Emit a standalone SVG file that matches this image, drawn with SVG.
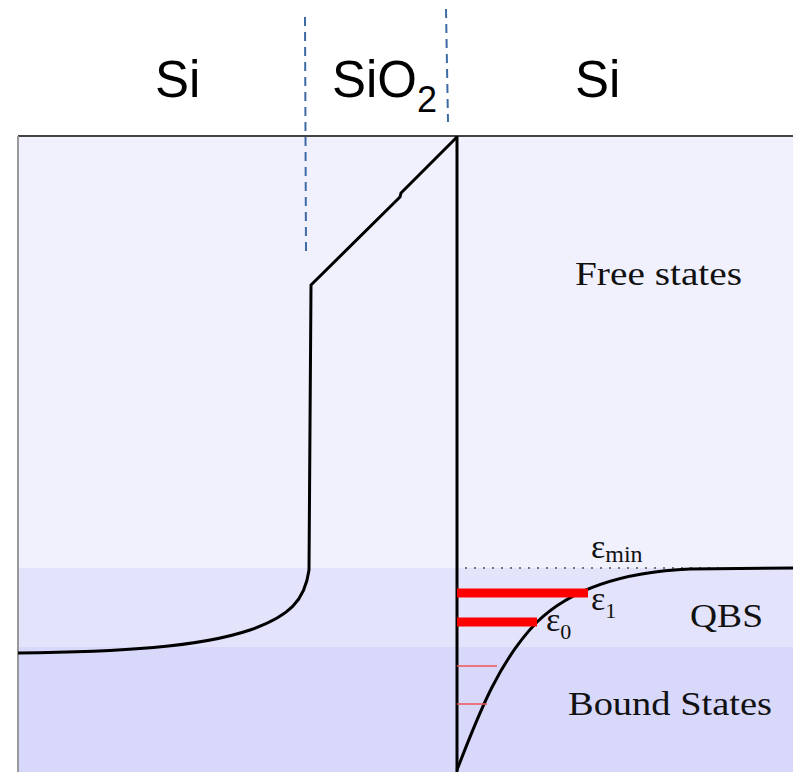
<svg xmlns="http://www.w3.org/2000/svg" width="793" height="772" viewBox="0 0 793 772">
<style>
.lbl{font-family:"Liberation Sans",Arial,sans-serif;font-size:51px;fill:#000}
.ser{font-family:"Liberation Serif","Times New Roman",serif;fill:#111}
.dash{stroke:#3d6aa5;stroke-width:2;stroke-dasharray:9,6;fill:none}
.curve{stroke:#000;stroke-width:3;fill:none;stroke-linejoin:round}
</style>
<rect width="793" height="772" fill="#fff"/>
<g id="bands">
<rect x="18" y="136" width="775" height="432" fill="#f1f1fe"/>
<rect x="18" y="568" width="775" height="79" fill="#e3e3fb"/>
<rect x="18" y="647" width="775" height="125" fill="#d8d8fb"/>
<line x1="18" y1="136" x2="793" y2="136" stroke="#444" stroke-width="2"/>
<line x1="18" y1="136" x2="18" y2="772" stroke="#999" stroke-width="2"/>
</g>
<g id="labels">
<text class="lbl" x="155" y="97">Si</text>
<text class="lbl" x="332" y="97">SiO<tspan font-size="36" dy="15">2</tspan></text>
<text class="lbl" x="575" y="97">Si</text>
</g>
<g id="connectors">
<line class="dash" x1="305" y1="17" x2="306" y2="254"/>
<line class="dash" x1="446" y1="9" x2="448" y2="122"/>
<line x1="457" y1="136" x2="457" y2="772" stroke="#000" stroke-width="3"/>
<path class="curve" d="M18,653 C120,652 200,647 250,630 C290,616 305,600 309,570 L311,285 L400,197 L401,193 L457,137"/>
<line x1="465" y1="568" x2="720" y2="568" stroke="#777" stroke-width="2" stroke-dasharray="2,7"/>
<path class="curve" d="M457,770 C480,710 500,660 537,622 C570,590 620,572 690,569 L793,568"/>
</g>
<g id="levels">
<line x1="457" y1="593" x2="588" y2="593" stroke="#ff0000" stroke-width="9"/>
<line x1="457" y1="622" x2="537" y2="622" stroke="#ff0000" stroke-width="9"/>
<line x1="457" y1="666" x2="497" y2="666" stroke="#f05555" stroke-width="1.5"/>
<line x1="457" y1="704" x2="487" y2="704" stroke="#f05555" stroke-width="1.5"/>
</g>
<g id="state-labels">
<text class="ser" x="575" y="285" font-size="34" textLength="167" lengthAdjust="spacingAndGlyphs">Free states</text>
<text class="ser" x="591" y="558" font-size="34">ε<tspan font-size="24" dy="4">min</tspan></text>
<text class="ser" x="591" y="610" font-size="34">ε<tspan font-size="22" dy="8">1</tspan></text>
<text class="ser" x="546" y="631" font-size="34">ε<tspan font-size="22" dy="8">0</tspan></text>
<text class="ser" x="690" y="627" font-size="34" textLength="73" lengthAdjust="spacingAndGlyphs">QBS</text>
<text class="ser" x="568" y="715" font-size="34" textLength="204" lengthAdjust="spacingAndGlyphs">Bound States</text>
</g>
</svg>
